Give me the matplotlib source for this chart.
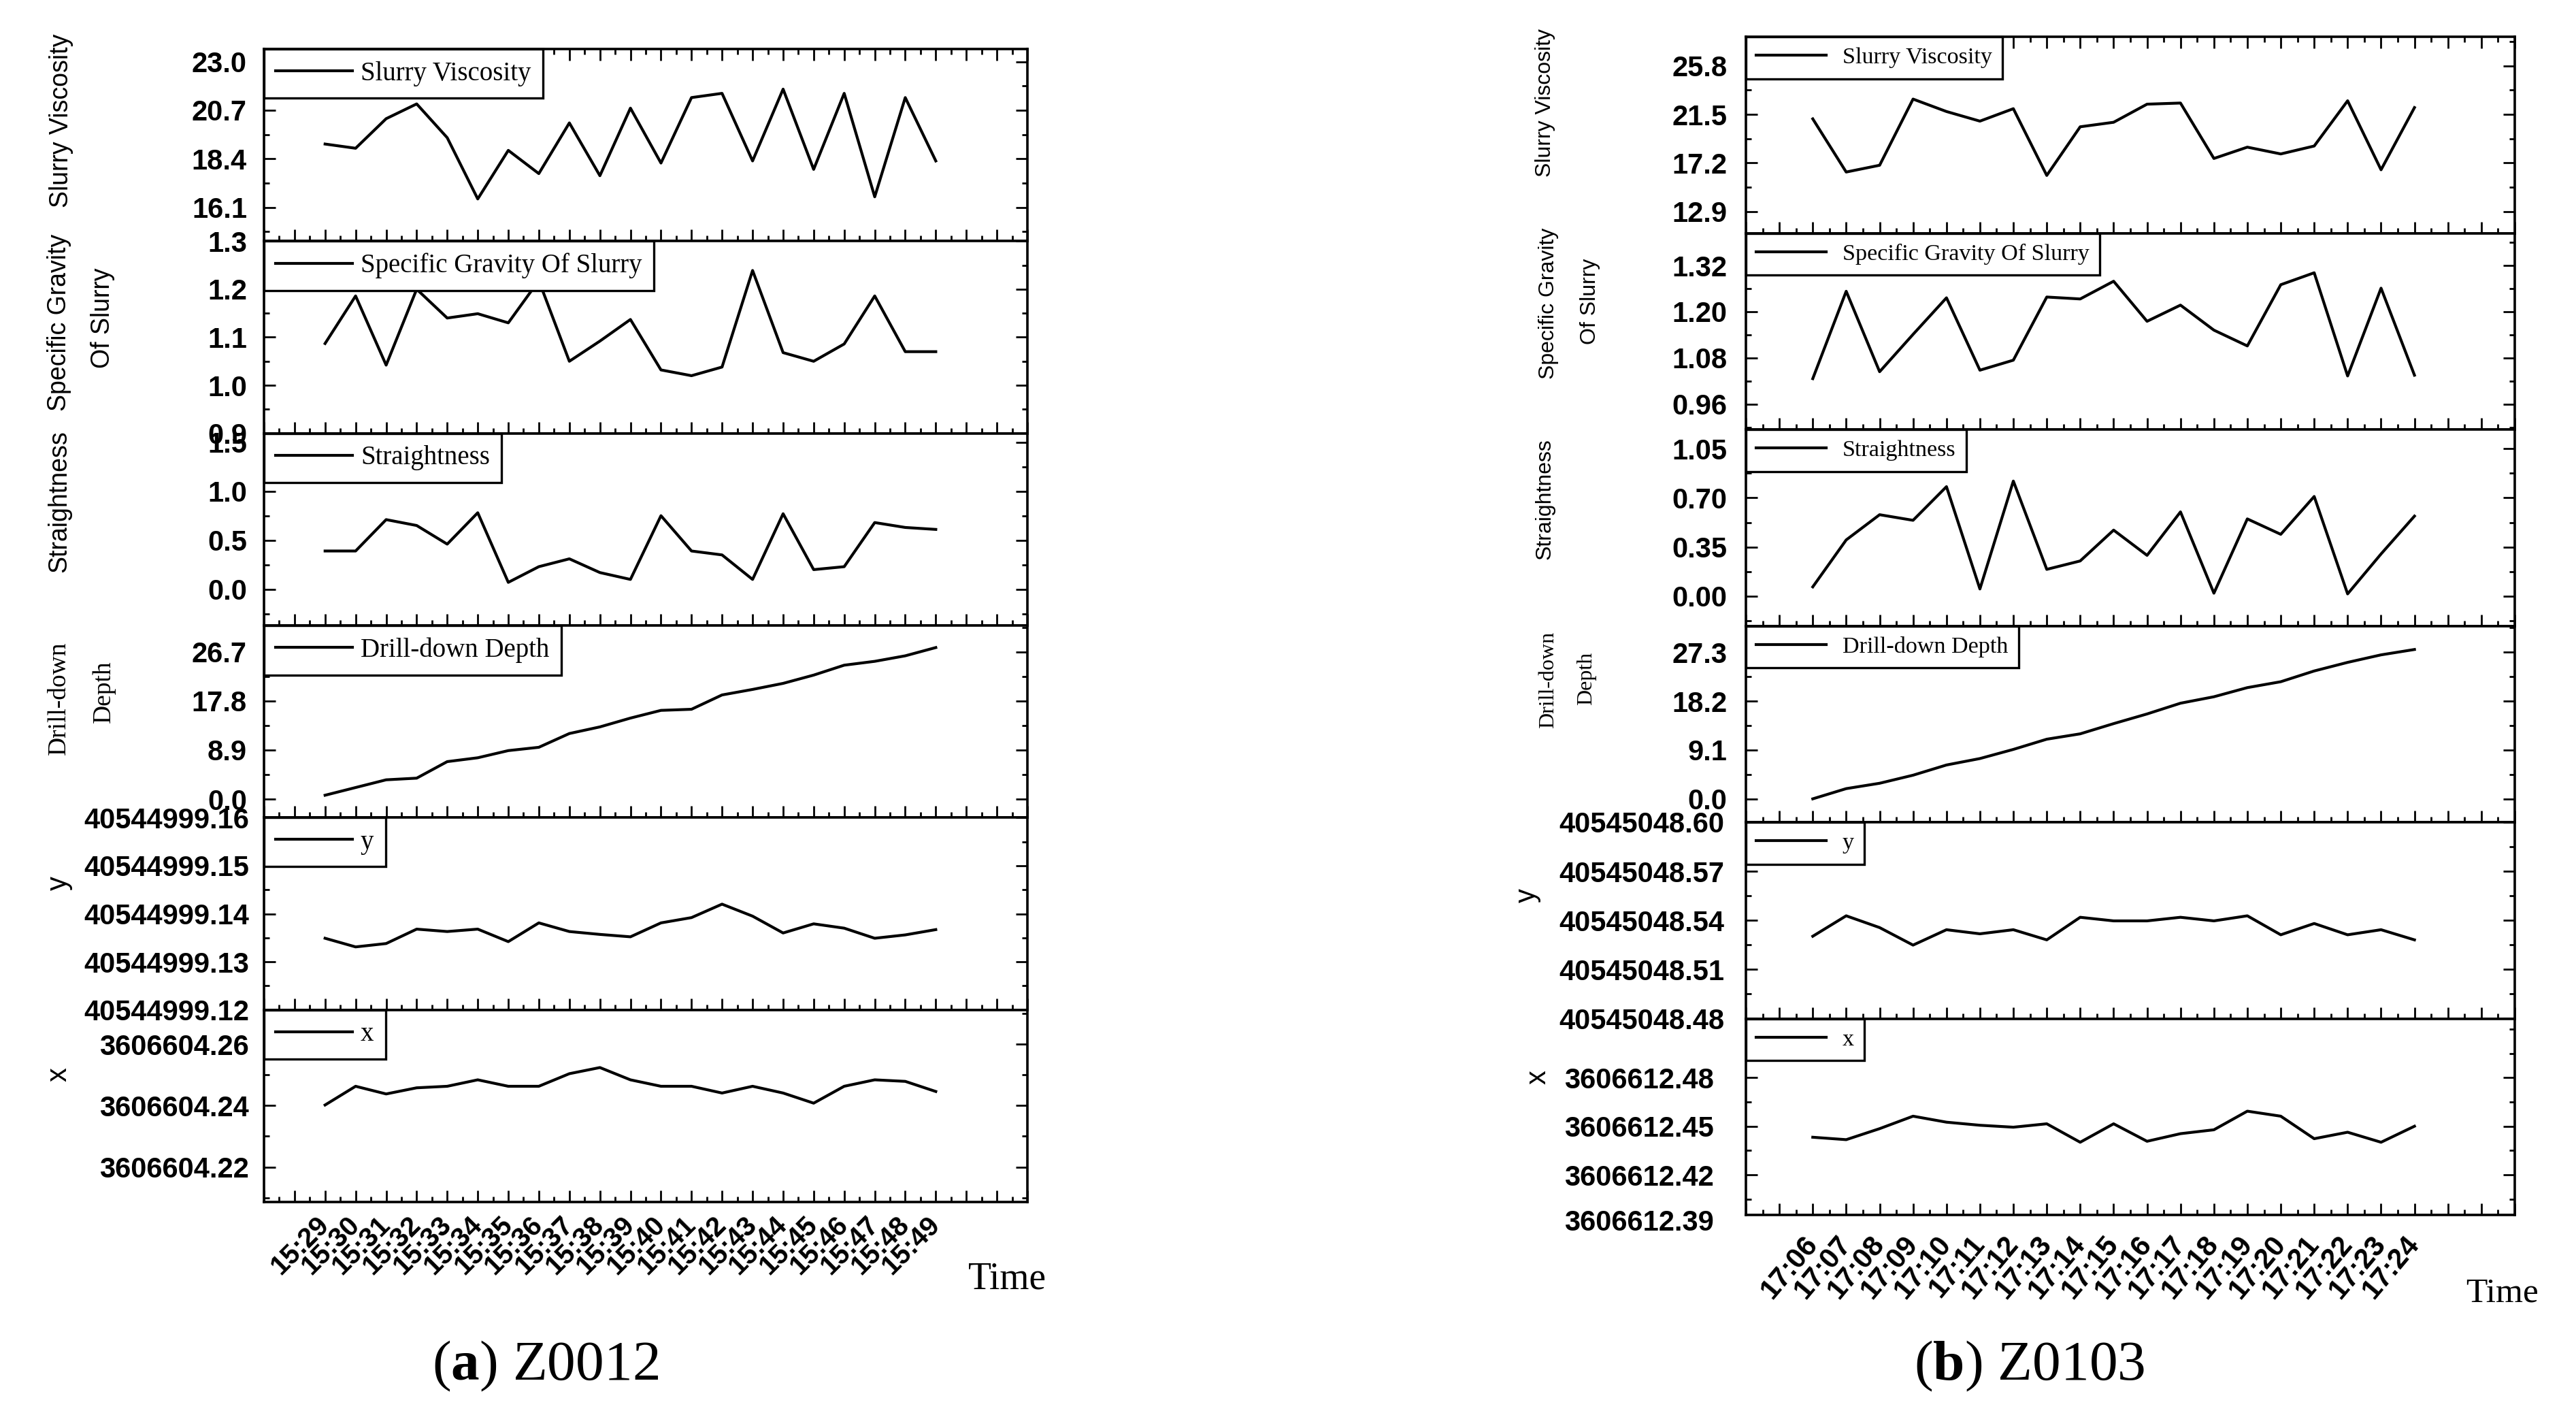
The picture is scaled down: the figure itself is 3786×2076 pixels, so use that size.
"""Drilling logs for piles Z0012 and Z0103: six stacked panels per pile over time."""

import matplotlib as mpl
import matplotlib.pyplot as plt
from matplotlib.ticker import AutoMinorLocator, FixedLocator, FormatStrFormatter

W_PX, H_PX, DPI = 3787, 2076, 200

mpl.rcParams.update(
    {
        "font.family": ["Liberation Sans", "DejaVu Sans"],
        "font.weight": "bold",
        "axes.linewidth": 1.3,
        "xtick.direction": "in",
        "ytick.direction": "in",
        "xtick.major.size": 6,
        "xtick.minor.size": 3,
        "ytick.major.size": 6,
        "ytick.minor.size": 3,
        "xtick.major.width": 1.0,
        "xtick.minor.width": 1.0,
        "ytick.major.width": 1.0,
        "ytick.minor.width": 1.0,
        "mathtext.fontset": "custom",
        "mathtext.rm": "Liberation Serif",
        "mathtext.bf": "Liberation Serif:bold",
    }
)

# ---------------- (a) Z0012 ----------------
z12_times = ["15:29", "15:30", "15:31", "15:32", "15:33", "15:34", "15:35",
             "15:36", "15:37", "15:38", "15:39", "15:40", "15:41", "15:42",
             "15:43", "15:44", "15:45", "15:46", "15:47", "15:48", "15:49"]
z12_viscosity = [19.1, 18.9, 20.3, 21.0, 19.4, 16.5, 18.8, 17.7, 20.1, 17.6, 20.8,
                 18.2, 21.3, 21.5, 18.3, 21.7, 17.9, 21.5, 16.6, 21.3, 18.3]
z12_gravity = [1.087, 1.186, 1.042, 1.200, 1.140, 1.149, 1.130, 1.218, 1.050, 1.092, 1.137,
               1.032, 1.020, 1.038, 1.239, 1.068, 1.050, 1.086, 1.186, 1.070, 1.070]
z12_straightness = [0.39, 0.39, 0.71, 0.65, 0.46, 0.78, 0.07, 0.23, 0.31, 0.17, 0.10,
                    0.75, 0.39, 0.35, 0.10, 0.77, 0.20, 0.23, 0.68, 0.63, 0.61]
z12_depth = [0.7, 2.1, 3.5, 3.8, 6.8, 7.5, 8.8, 9.4, 11.9, 13.1, 14.7,
             16.1, 16.3, 18.9, 19.9, 21.0, 22.5, 24.3, 25.0, 26.0, 27.5]
z12_y = [40544999.1349, 40544999.1331, 40544999.1338, 40544999.1368, 40544999.1363,
         40544999.1368, 40544999.1342, 40544999.1381, 40544999.1363, 40544999.1357,
         40544999.1352, 40544999.1381, 40544999.1392, 40544999.1420, 40544999.1395,
         40544999.1360, 40544999.1379, 40544999.1370, 40544999.1349, 40544999.1356,
         40544999.1367]
z12_x = [3606604.2402, 3606604.2463, 3606604.2438, 3606604.2458, 3606604.2463,
         3606604.2484, 3606604.2463, 3606604.2463, 3606604.2504, 3606604.2524,
         3606604.2484, 3606604.2463, 3606604.2463, 3606604.2441, 3606604.2463,
         3606604.2441, 3606604.2408, 3606604.2463, 3606604.2484, 3606604.2479,
         3606604.2446]

z12_visc_ticks = [16.1, 18.4, 20.7, 23.0]
z12_grav_ticks = [0.9, 1.0, 1.1, 1.2, 1.3]
z12_str_ticks = [0.0, 0.5, 1.0, 1.5]
z12_depth_ticks = [0.0, 8.9, 17.8, 26.7]
z12_y_ticks = [40544999.12, 40544999.13, 40544999.14, 40544999.15, 40544999.16]
z12_x_ticks = [3606604.22, 3606604.24, 3606604.26]

# ---------------- (b) Z0103 ----------------
z103_times = ["17:06", "17:07", "17:08", "17:09", "17:10", "17:11", "17:12",
              "17:13", "17:14", "17:15", "17:16", "17:17", "17:18", "17:19",
              "17:20", "17:21", "17:22", "17:23", "17:24"]
z103_viscosity = [21.1, 16.4, 17.0, 22.85, 21.75, 20.9, 22.0, 16.1, 20.4, 20.8,
                  22.4, 22.5, 17.6, 18.6, 18.0, 18.7, 22.7, 16.6, 22.1]
z103_gravity = [1.026, 1.253, 1.044, 1.141, 1.236, 1.048, 1.074, 1.238, 1.233, 1.279,
                1.175, 1.217, 1.152, 1.111, 1.270, 1.301, 1.033, 1.261, 1.035]
z103_straightness = [0.065, 0.40, 0.58, 0.54, 0.78, 0.05, 0.82, 0.19, 0.25, 0.47,
                     0.29, 0.60, 0.02, 0.55, 0.44, 0.71, 0.015, 0.30, 0.57]
z103_depth = [0.0, 1.9, 2.9, 4.4, 6.3, 7.5, 9.2, 11.1, 12.1, 14.0,
              15.8, 17.8, 19.0, 20.7, 21.8, 23.8, 25.4, 26.8, 27.8]
z103_y = [40545048.5303, 40545048.5428, 40545048.5356, 40545048.5249, 40545048.5343,
          40545048.5318, 40545048.5343, 40545048.5281, 40545048.5419, 40545048.5397,
          40545048.5397, 40545048.5419, 40545048.5397, 40545048.5428, 40545048.5312,
          40545048.5381, 40545048.5312, 40545048.5343, 40545048.5281]
z103_x = [3606612.4432, 3606612.4417, 3606612.4485, 3606612.4562, 3606612.4525,
          3606612.4506, 3606612.4494, 3606612.4515, 3606612.4401, 3606612.4515,
          3606612.4407, 3606612.4454, 3606612.4478, 3606612.4593, 3606612.4562,
          3606612.4423, 3606612.4463, 3606612.4401, 3606612.4500]

z103_visc_ticks = [12.9, 17.2, 21.5, 25.8]
z103_grav_ticks = [0.96, 1.08, 1.20, 1.32]
z103_str_ticks = [0.00, 0.35, 0.70, 1.05]
z103_depth_ticks = [0.0, 9.1, 18.2, 27.3]
z103_y_ticks = [40545048.48, 40545048.51, 40545048.54, 40545048.57, 40545048.60]
z103_x_ticks = [3606612.42, 3606612.45, 3606612.48]
z103_x_low_label = 3606612.39  # printed below the frame in the source figure

SERIF = ["Liberation Serif", "DejaVu Serif"]
SANS = ["Liberation Sans", "DejaVu Sans"]


def px(x, y):
    return x / W_PX, 1 - y / H_PX


def draw_column(fig, box, times, panels, xlim, st):
    left, right, top, bottom = box
    h = (bottom - top) / len(panels)
    n = len(times)
    axes = []
    for k, (label, values, ticks, ylim, fmt, ypad) in enumerate(panels):
        x0, y0 = px(left, top + (k + 1) * h)
        ax = fig.add_axes([x0, y0, (right - left) / W_PX, h / H_PX])
        ax.plot(range(n), values, color="black", lw=1.5, label=label)
        ax.set_xlim(*xlim)
        ax.set_ylim(*ylim)
        ax.yaxis.set_major_locator(FixedLocator(ticks))
        ax.yaxis.set_major_formatter(FormatStrFormatter(fmt))
        ax.yaxis.set_minor_locator(AutoMinorLocator(2))
        pos = list(range(-2, n + 3))
        labs = [times[p] if 0 <= p < n else "" for p in pos]
        ax.set_xticks(pos, labs)
        ax.xaxis.set_minor_locator(AutoMinorLocator(2))
        ax.tick_params(which="both", top=(k == 0), right=True, bottom=True,
                       left=True, labelbottom=(k == len(panels) - 1))
        ax.tick_params(axis="y", labelsize=st["ytick"], pad=ypad)
        ax.tick_params(axis="x", labelsize=st["xtick"], pad=st["xpad"])
        for t in ax.get_xticklabels():
            t.set_rotation(st["rot"])
            t.set_ha("right")
            t.set_va("center")
            t.set_rotation_mode("anchor")
        leg = ax.legend(
            loc="upper left", bbox_to_anchor=(0, 1), borderaxespad=0,
            fancybox=False, edgecolor="black", framealpha=1,
            handlelength=st["hlen"], handletextpad=st["hpad"], borderpad=0.45,
            prop={"family": SERIF, "size": st["legend"], "weight": "normal"},
        )
        leg.get_frame().set_linewidth(1.2)
        axes.append(ax)
    return axes


fig = plt.figure(figsize=(W_PX / DPI, H_PX / DPI), dpi=DPI)

left_style = {"ytick": 15, "xtick": 14.5, "xpad": 10, "rot": 45,
              "legend": 14, "hlen": 2.9, "hpad": 0.3}
left_panels = [
    ("Slurry Viscosity", z12_viscosity, z12_visc_ticks, (14.5, 23.6), "%.1f", 9),
    ("Specific Gravity Of Slurry", z12_gravity, z12_grav_ticks, (0.9, 1.3), "%.1f", 9),
    ("Straightness", z12_straightness, z12_str_ticks, (-0.37, 1.59), "%.1f", 9),
    ("Drill-down Depth", z12_depth, z12_depth_ticks, (-3.37, 31.5), "%.1f", 9),
    ("y", z12_y, z12_y_ticks, (40544999.12, 40544999.16), "%.2f", 8),
    ("x", z12_x, z12_x_ticks, (3606604.2086, 3606604.2712), "%.2f", 8),
]
draw_column(fig, (388, 1510, 72, 1766), z12_times, left_panels, (-1.97, 22.08), left_style)

right_style = {"ytick": 15, "xtick": 15, "xpad": 13, "rot": 50,
               "legend": 12.3, "hlen": 3.0, "hpad": 0.7}
right_panels = [
    ("Slurry Viscosity", z103_viscosity, z103_visc_ticks, (11.0, 28.36), "%.1f", 10),
    ("Specific Gravity Of Slurry", z103_gravity, z103_grav_ticks, (0.894, 1.404), "%.2f", 10),
    ("Straightness", z103_straightness, z103_str_ticks, (-0.213, 1.188), "%.2f", 10),
    ("Drill-down Depth", z103_depth, z103_depth_ticks, (-4.35, 32.2), "%.1f", 10),
    ("y", z103_y, z103_y_ticks, (40545048.48, 40545048.60), "%.2f", 11.5),
    ("x", z103_x, z103_x_ticks, (3606612.3952, 3606612.5165), "%.2f", 17),
]
raxes = draw_column(fig, (2566, 3696, 54, 1785), z103_times, right_panels, (-1.47, 19.56), right_style)

# the lowest x-coordinate label sits just under the frame in the original
raxes[-1].text(-0.0416, z103_x_low_label, f"{z103_x_low_label:.2f}",
               transform=raxes[-1].get_yaxis_transform(), ha="right", va="center",
               fontsize=15, fontweight="bold", clip_on=False)

# axis titles, placed by hand like the original Origin export
ylabels = [
    ("Slurry Viscosity", 90, 177, SANS, 13.5),
    ("Specific Gravity", 87, 474, SANS, 13.5),
    ("Of Slurry", 151, 467, SANS, 13.5),
    ("Straightness", 87, 737, SANS, 13.5),
    ("Drill-down", 87, 1026, SERIF, 13.5),
    ("Depth", 153, 1016, SERIF, 13.5),
    ("y", 87, 1298, SANS, 15),
    ("x", 87, 1579, SANS, 15),
    ("Slurry Viscosity", 2271, 151, SANS, 11.5),
    ("Specific Gravity", 2276, 446, SANS, 11.5),
    ("Of Slurry", 2337, 443, SANS, 11.5),
    ("Straightness", 2271, 733, SANS, 11.5),
    ("Drill-down", 2276, 999, SERIF, 11.5),
    ("Depth", 2332, 997, SERIF, 11.5),
    ("y", 2245, 1316, SANS, 15),
    ("x", 2261, 1583, SANS, 15),
]
for text, x, y, fam, size in ylabels:
    fig.text(*px(x, y), text, rotation=90, ha="center", va="center",
             family=fam, fontsize=size, fontweight="normal")

fig.text(*px(1480, 1880), "Time", ha="center", va="center", family=SERIF,
         fontsize=20, fontweight="normal")
fig.text(*px(3678, 1900), "Time", ha="center", va="center", family=SERIF,
         fontsize=18.5, fontweight="normal")

fig.text(*px(802, 2007), r"($\mathbf{a}$) Z0012", ha="center", va="center",
         family=SERIF, fontsize=30, fontweight="normal")
fig.text(*px(2983, 2007), r"($\mathbf{b}$) Z0103", ha="center", va="center",
         family=SERIF, fontsize=30, fontweight="normal")

fig.savefig("out.png", dpi=DPI)
